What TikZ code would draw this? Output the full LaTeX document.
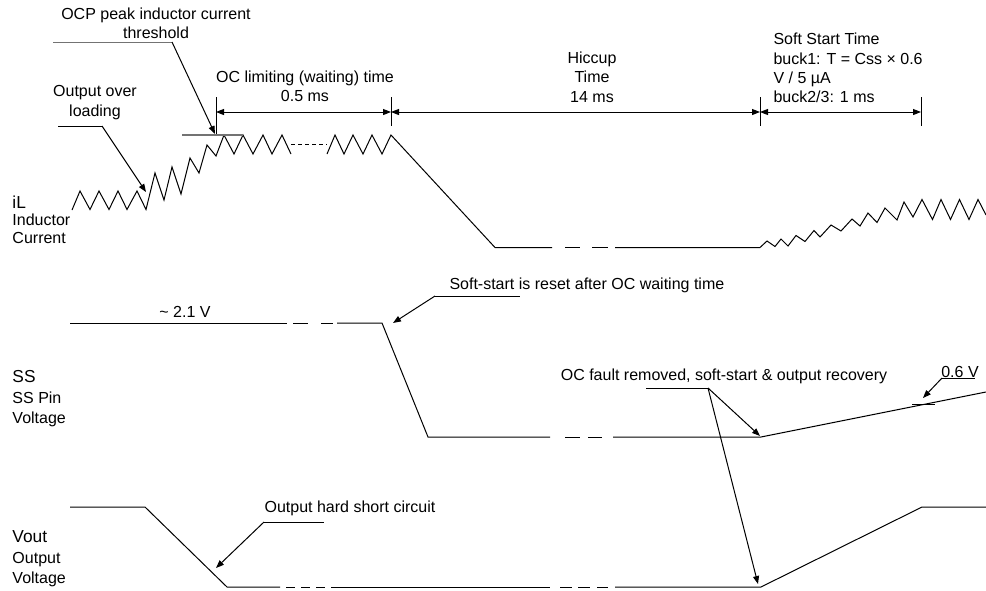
\documentclass[tikz,border=0pt]{standalone}
\usepackage{fontspec}
\setmainfont{Liberation Sans}
\usetikzlibrary{arrows.meta,positioning}

\begin{document}
\begin{tikzpicture}[x=0.75pt,y=-0.75pt,line width=0.75pt,
    tip/.style={-{Triangle[length=6pt,width=4.5pt]}},
    dim/.style={{Triangle[length=6pt,width=4.5pt]}-{Triangle[length=6pt,width=4.5pt]}},
    txt/.style={font=\fontsize{12}{14.5}\selectfont, inner sep=0pt, align=center},
    sig/.style={font=\fontsize{13}{15}\selectfont, inner sep=0pt, anchor=base west},
    sub/.style={font=\fontsize{12}{14.5}\selectfont, inner sep=0pt, anchor=base west}]
    \useasboundingbox (0,0) rectangle (986,590);

    % Signal names
    \node[sig] (il) at (12,208) {iL};
    \node[sub] (ilname) at (12,225) {Inductor};
    \node[sub] (ilname2) at (12,243) {Current};
    \node[sig] (ss) at (12,382) {SS};
    \node[sub] (ssname) at (12,403) {SS Pin};
    \node[sub] (ssname2) at (12,423) {Voltage};
    \node[sig] (vout) at (12,542) {Vout};
    \node[sub] (voutname) at (12,563) {Output};
    \node[sub] (voutname2) at (12,583) {Voltage};

    % iL waveform
    \draw (72,210) -- (80,191) -- (90,209.5) -- (99,191) -- (109,209.5) -- (118,191) -- (127,209.5)
        -- (137,191) -- (146,209.5) -- (155,173) -- (164,200) -- (172,167) -- (181,194) -- (190,158)
        -- (199,173) -- (207,145) -- (216,156) -- (224,135) -- (234,154) -- (243,135) -- (253,154)
        -- (263,135) -- (272,154) -- (282,135) -- (291,154);
    \draw[dash pattern=on 3pt off 2.25pt] (291,144) -- (327,144);
    \draw (327,154) -- (335,135) -- (344,154) -- (353,135) -- (363,154) -- (372,135) -- (382,154)
        -- (391,135) -- (495,247.5) -- (552,247.5);
    \draw (565,247.5) -- (580,247.5);
    \draw (592,247.5) -- (608,247.5);
    \draw (615,247.5) -- (760,247.5) -- (767,241) -- (775,246.5) -- (781,239) -- (788,246) -- (796,235.5)
        -- (805,241.5) -- (814,230.5) -- (820,237) -- (831,225) -- (841,231) -- (852,219) -- (860,226)
        -- (868,213) -- (877,222.5) -- (885,208) -- (897,220) -- (904,202) -- (913,217) -- (922,199.5)
        -- (932.5,219.5) -- (941,199.5) -- (950.5,219.5) -- (959.5,199.5) -- (969,219.5) -- (978,199.5)
        -- (986,215);

    % OCP threshold
    \draw[black!55, line width=1pt] (182,135) -- (243,135);
    \node[txt] (ocp) at (156,23.5) {OCP peak inductor current\\threshold};
    \coordinate (ocpbend) at (172,42);
    \coordinate (ocptip) at (215,134);
    \draw[black!55] (53,42) -- (ocpbend);
    \draw[tip] (ocpbend) -- (ocptip);

    % Over loading
    \node[txt] (ovl) at (95,102.5) {Output over\\loading};
    \coordinate (ovlbend) at (102,126);
    \coordinate (ovltip) at (146,192);
    \draw (58,126) -- (ovlbend);
    \draw[tip] (ovlbend) -- (ovltip);

    % Timing dimensions
    \coordinate (t0) at (216,112);
    \coordinate (t1) at (391,112);
    \coordinate (t2) at (760,112);
    \coordinate (t3) at (921,112);
    \draw (216,97) -- (216,134);
    \draw (391,97) -- (391,126);
    \draw (760,97) -- (760,126);
    \draw (921,97) -- (921,126);
    \draw[dim] (t0) -- (t1);
    \draw[dim] (t1) -- (t2);
    \draw[dim] (t2) -- (t3);
    \node[txt] (oclim) at (305,86.5) {OC limiting (waiting) time\\0.5 ms};
    \node[txt] (hic) at (592,77) {Hiccup\\Time\\14 ms};
    \node[txt, align=left, anchor=west] (sst) at (773,68) {Soft Start Time\\buck1: T = Css × 0.6\\V / 5 µA\\buck2/3: 1 ms};

    % SS waveform
    \draw (70,323) -- (287,323);
    \draw (293,323) -- (308,323);
    \draw (321,323) -- (333,323);
    \draw (337,323) -- (382,323) -- (428,437) -- (550,437);
    \draw (565,437) -- (580,437);
    \draw (588,437) -- (602,437);
    \draw (613,437) -- (761,437) -- (986,392);
    \node[txt] (v21) at (185,312) {\textasciitilde\ 2.1 V};
    \node[txt, anchor=west] (ssrst) at (449,285) {Soft-start is reset after OC waiting time};
    \coordinate (ssrstbend) at (435,296);
    \coordinate (ssrsttip) at (393,323);
    \draw (ssrstbend) -- (520,296);
    \draw[tip] (ssrstbend) -- (ssrsttip);

    % 0.6 V mark
    \draw (912,404) -- (935,404);
    \node[txt] (v06) at (960,372) {0.6 V};
    \coordinate (v06bend) at (942,378);
    \coordinate (v06tip) at (923,398);
    \draw (v06bend) -- (975,378);
    \draw[tip] (v06bend) -- (v06tip);

    % Vout waveform
    \draw (70,507) -- (145,507) -- (227,587) -- (280,587);
    \draw (286,587) -- (295,587);
    \draw (301,587) -- (310,587);
    \draw (316,587) -- (325,587);
    \draw (331,587) -- (550,587);
    \draw (560,587) -- (572,587);
    \draw (578,587) -- (590,587);
    \draw (597,587) -- (608,587);
    \draw (615,587) -- (761,587) -- (922,507) -- (986,507);
    \node[txt] (short) at (350,508) {Output hard short circuit};
    \coordinate (shortbend) at (264,522);
    \coordinate (shorttip) at (216,568);
    \draw (shortbend) -- (324,522);
    \draw[tip] (shortbend) -- (shorttip);

    % Recovery
    \node[txt] (rec) at (724,376) {OC fault removed, soft-start \& output recovery};
    \coordinate (recbend) at (708,388);
    \coordinate (recss) at (760,436);
    \coordinate (recvout) at (758,584);
    \draw (646,388) -- (recbend);
    \draw[tip] (recbend) -- (recss);
    \draw[tip] (recbend) -- (recvout);
\end{tikzpicture}
\end{document}
